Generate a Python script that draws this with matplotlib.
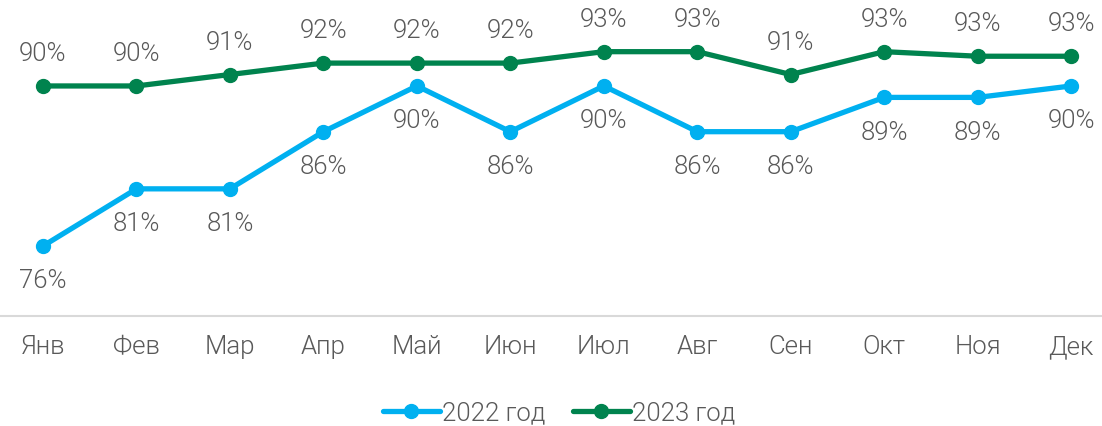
import matplotlib
matplotlib.use("Agg")
import matplotlib.pyplot as plt

months = ["Янв", "Фев", "Мар", "Апр", "Май", "Июн", "Июл", "Авг", "Сен", "Окт", "Ноя", "Дек"]
v2022 = [76, 81, 81, 86, 90, 86, 90, 86, 86, 89, 89, 90]
v2023 = [90, 90, 91, 92, 92, 92, 93, 93, 91, 93, 92.6, 92.6]
series_names = ["2022 год", "2023 год"]

c2022 = "#00B0F0"
c2023 = "#00834E"
txt = "#595959"

plt.rcParams['font.family'] = ['Roboto', 'DejaVu Sans']
plt.rcParams['font.weight'] = 300
FS = 18.5

W, H = 1102, 426
fig = plt.figure(figsize=(W/100, H/100), dpi=100)
ax = fig.add_axes([0, 110/H, 1, 316/H])

x = list(range(len(months)))
ax.plot(x, v2022, color=c2022, lw=3.8, marker='o', ms=10, label=series_names[0], solid_capstyle='round')
ax.plot(x, v2023, color=c2023, lw=3.8, marker='o', ms=10, label=series_names[1], solid_capstyle='round')

for xi, v in zip(x, v2022):
    ax.annotate(f"{v:.0f}%", (xi, v), xytext=(0, -25.5), textcoords='offset points',
                ha='center', va='center', fontsize=FS, color=txt)
for xi, v in zip(x, v2023):
    ax.annotate(f"{v:.0f}%", (xi, v), xytext=(0, 23), textcoords='offset points',
                ha='center', va='center', fontsize=FS, color=txt)

ax.set_xlim(-0.46, 11.33)
ax.set_ylim(69.876, 97.52)
ax.set_xticks(x)
ax.set_xticklabels(months, fontsize=FS, color=txt)
ax.tick_params(axis='x', length=0, pad=14)
ax.set_yticks([])
for s in ['left', 'right', 'top']:
    ax.spines[s].set_visible(False)
ax.spines['bottom'].set_color('#D9D9D9')
ax.spines['bottom'].set_linewidth(1.5)
ax.patch.set_alpha(0)

leg = fig.legend(loc='center', bbox_to_anchor=(559/W, 1 - 413/H), ncol=2, frameon=False,
                 fontsize=FS, handlelength=2.2, handletextpad=0.08, columnspacing=1.1,
                 labelcolor=txt)
fig.savefig("out.png", dpi=100)
